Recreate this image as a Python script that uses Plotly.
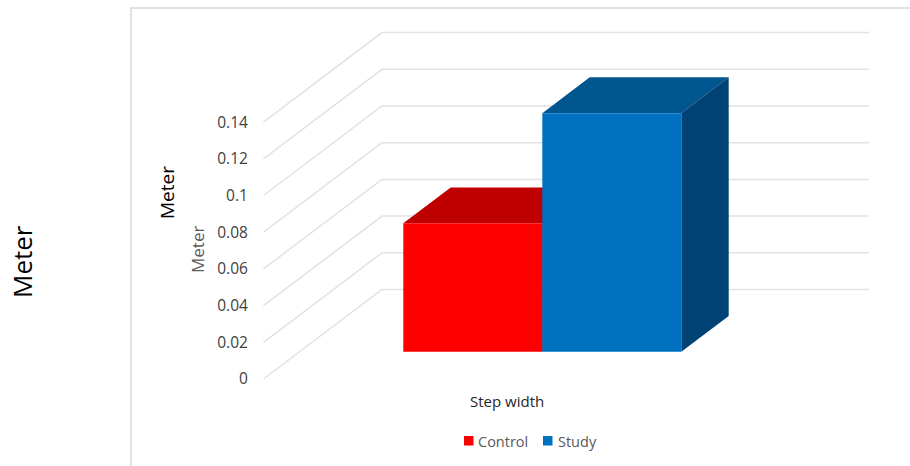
import plotly.graph_objects as go

# Chart data
groups = ["Control", "Study"]
step_width = [0.07, 0.13]
tick_values = [0, 0.02, 0.04, 0.06, 0.08, 0.1, 0.12, 0.14]
tick_labels = ["0", "0.02", "0.04", "0.06", "0.08", "0.1", "0.12", "0.14"]

# Face colours: front, top, side
front_colors = ["#FF0000", "#0070C0"]
top_colors = ["#BF0000", "#00568F"]
side_colors = ["#BF0000", "#004274"]

# Key placement, in pixels: swatch left edge and text left edge per group
key_swatch_px = [464, 543]
key_text_px = [476, 556]

W, H = 910, 466
PX_PER_CAT = 139.0       # one bar width, in pixels
PX_PER_VAL = 36.7 / 0.02 # pixels per metre
CAT0_PX = 472.8          # pixel centre of the first category
VAL0_PX = 379.0          # pixel height of zero at the front of the floor

# Oblique projection: shift per unit of depth, in data units
DEPTH_DX = 118.5 / PX_PER_CAT
DEPTH_DY = 89.5 / PX_PER_VAL
BAR_DEPTH_START = 0.305
BAR_DEPTH_END = 0.705
WALL_FRONT_X = -1.506
WALL_RIGHT_X = 2.85
AXIS_PX = 255.0


def project(cat, val, depth):
    return cat + depth * DEPTH_DX, val + depth * DEPTH_DY


fig = go.Figure()

# Side-wall and back-wall gridlines
for v in tick_values:
    x0, y0 = project(WALL_FRONT_X, v, 0)
    x1, y1 = project(WALL_FRONT_X, v, 1)
    fig.add_trace(go.Scatter(
        x=[x0, x1, WALL_RIGHT_X], y=[y0, y1, y1], mode="lines",
        line=dict(color="#E2E2E2", width=1.5), showlegend=False,
        hoverinfo="skip", zorder=0))

# Bars: front face through the bar scale, top and side faces projected back
depth = BAR_DEPTH_END - BAR_DEPTH_START
_, floor = project(0, 0, BAR_DEPTH_START)
for i, (name, val) in enumerate(zip(groups, step_width)):
    left, right = i - 0.5, i + 0.5
    layer = 1 + i * 3
    top_xy = [project(left, val, 0), project(left, val, depth),
              project(right, val, depth), project(right, val, 0)]
    fig.add_trace(go.Scatter(
        x=[p[0] for p in top_xy], y=[p[1] + floor for p in top_xy],
        mode="lines", fill="toself", fillcolor=top_colors[i],
        line=dict(width=0), showlegend=False, hoverinfo="skip", zorder=layer))
    side_xy = [project(right, 0, 0), project(right, 0, depth),
               project(right, val, depth), project(right, val, 0)]
    fig.add_trace(go.Scatter(
        x=[p[0] for p in side_xy], y=[p[1] + floor for p in side_xy],
        mode="lines", fill="toself", fillcolor=side_colors[i],
        line=dict(width=0), showlegend=False, hoverinfo="skip", zorder=layer))
    fig.add_trace(go.Bar(
        x=[i], y=[val], base=[floor], width=[1], name=name, showlegend=False,
        marker=dict(color=front_colors[i], line=dict(width=0)),
        zorder=layer + 1))


def label(text, x_px, y_px, size, color, angle=0, anchor="center"):
    return dict(text=text, x=x_px / W, y=1 - y_px / H, xref="paper", yref="paper",
                xanchor=anchor, yanchor="middle", showarrow=False, textangle=angle,
                font=dict(family="Open Sans", size=size, color=color))


def frame_line(x0, y0, x1, y1):
    return dict(type="line", xref="paper", yref="paper",
                x0=x0 / W, x1=x1 / W, y0=1 - y0 / H, y1=1 - y1 / H,
                line=dict(color="#D9D9D9", width=1.5))


# Colour key under the chart
key_shapes = [
    dict(type="rect", xref="paper", yref="paper",
         x0=sx / W, x1=(sx + 9.5) / W, y0=1 - 445.5 / H, y1=1 - 436 / H,
         fillcolor=color, line=dict(width=0))
    for sx, color in zip(key_swatch_px, front_colors)
]
key_labels = [label(name, tx, 441, 14.5, "#595959", anchor="left")
              for name, tx in zip(groups, key_text_px)]

fig.update_layout(
    width=W, height=H, autosize=False,
    margin=dict(l=0, r=0, t=0, b=0),
    paper_bgcolor="white", plot_bgcolor="white",
    barmode="overlay", hovermode=False, showlegend=False,
    font=dict(family="Open Sans", color="#404040"),
    xaxis=dict(domain=[AXIS_PX / W, 1], visible=False,
               range=[(AXIS_PX - CAT0_PX) / PX_PER_CAT, (W - CAT0_PX) / PX_PER_CAT]),
    yaxis=dict(domain=[0, 1],
               range=[(VAL0_PX - H) / PX_PER_VAL, VAL0_PX / PX_PER_VAL],
               tickmode="array", tickvals=tick_values, ticktext=tick_labels,
               showgrid=False, zeroline=False, showline=False,
               ticks="outside", ticklen=3, tickcolor="rgba(0,0,0,0)",
               tickfont=dict(family="Open Sans", size=15.5, color="#404040")),
    shapes=[frame_line(130, 8, W, 8), frame_line(131, 8, 131, H)] + key_shapes,
    annotations=[
        label("Meter", 22, 262, 26, "#000000", -90),
        label("Meter", 167, 193, 19, "#000000", -90),
        label("Meter", 198, 250, 17, "#595959", -90),
        label("Step width", 507, 401, 15, "#262626"),
    ] + key_labels,
)

fig.write_html("out.html", config={"displayModeBar": False})
